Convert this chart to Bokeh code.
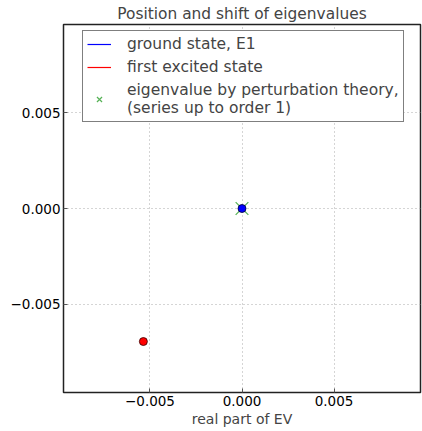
from bokeh.plotting import figure
from bokeh.models import Range1d, Legend, LegendItem, FixedTicker, CustomJSTickFormatter
from bokeh.embed import file_html
from bokeh.resources import INLINE

# data
ground_re = [0.0]
ground_im = [0.0]
excited_re = [-0.00536]
excited_im = [-0.00694]
pert_re = [0.0]
pert_im = [0.0]
tick_values = [-0.005, 0.0, 0.005]

FONT = "DejaVu Sans"

p = figure(width=422, height=431, output_backend="svg", toolbar_location=None,
           x_range=Range1d(-0.0097, 0.0097), y_range=Range1d(-0.0096, 0.0096),
           min_border_left=63, min_border_right=2, min_border_top=24, min_border_bottom=39,
           title="Position and shift of eigenvalues")
p.title.align = "center"
p.title.text_font = FONT
p.title.text_font_size = "15.4px"
p.title.text_font_style = "normal"
p.title.offset = 0
p.title.standoff = 4

p.outline_line_color = "#222222"
p.outline_line_width = 1.5
p.background_fill_color = "white"
p.border_fill_color = "white"

fmt = CustomJSTickFormatter(code="return tick.toFixed(3).replace('-', '\\u2212');")
for ax in (p.xaxis[0], p.yaxis[0]):
    ax.ticker = FixedTicker(ticks=tick_values)
    ax.formatter = fmt
    ax.major_tick_in = 4
    ax.major_tick_out = 0
    ax.minor_tick_line_color = None
    ax.axis_line_color = "#222222"
    ax.major_tick_line_color = "#555555"
    ax.major_label_text_font = FONT
    ax.major_label_text_font_size = "13.5px"
    ax.major_label_text_color = "black"
p.xaxis.major_label_standoff = 3
p.yaxis.major_label_standoff = 3

p.xaxis.axis_label = "real part of EV"
p.xaxis.axis_label_text_font = FONT
p.xaxis.axis_label_text_font_size = "14px"
p.xaxis.axis_label_text_font_style = "normal"
p.xaxis.axis_label_standoff = 2

p.grid.grid_line_color = "#aaaaaa"
p.grid.grid_line_dash = "1 3"
p.grid.grid_line_width = 1

# perturbation theory markers (behind)
r_pt = p.scatter(pert_re, pert_im, marker="x", size=18, line_color="#44aa44",
                 line_alpha=0.9, line_width=1.2)
# lines (single points) for legend, plus markers
r_gl = p.line(ground_re, ground_im, line_color="blue", line_width=1.2)
r_el = p.line(excited_re, excited_im, line_color="red", line_width=1.2)
p.scatter(ground_re, ground_im, marker="circle", size=8, fill_color="blue",
          line_color="#000033", line_width=0.8)
p.scatter(excited_re, excited_im, marker="circle", size=8, fill_color="red",
          line_color="#330000", line_width=0.8)

legend = Legend(items=[
    LegendItem(label="ground state, E1", renderers=[r_gl]),
    LegendItem(label="first excited state", renderers=[r_el]),
    LegendItem(label="eigenvalue by perturbation theory,\n(series up to order 1)", renderers=[r_pt]),
], location=(19, 270))
legend.label_text_font = FONT
legend.label_text_font_size = "15.5px"
legend.label_standoff = 16
legend.glyph_width = 24
legend.glyph_height = 18
legend.label_height = 18
legend.spacing = 5
legend.padding = 4
legend.margin = 0
legend.border_line_color = "black"
legend.border_line_width = 1
legend.background_fill_alpha = 1.0
p.add_layout(legend)

open("out.html", "w").write(file_html(p, INLINE))
